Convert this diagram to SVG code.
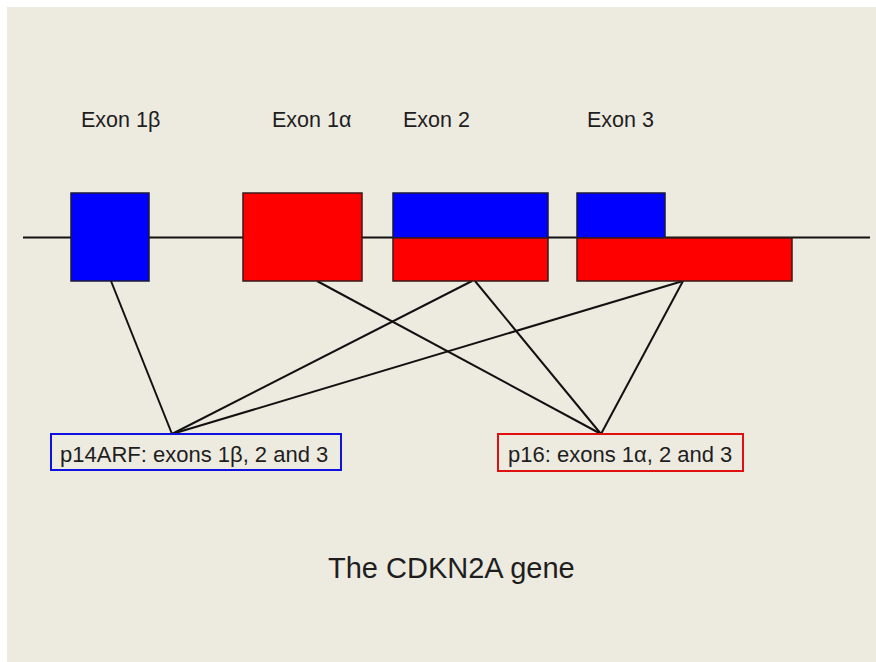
<svg xmlns="http://www.w3.org/2000/svg" width="876" height="662" viewBox="0 0 876 662">
<style>
.lbl{font-family:"Liberation Sans",Arial,sans-serif;fill:#1e1e1e}
.blue{fill:#0000ff;stroke:#1a1a3a;stroke-width:1.5}
.red{fill:#ff0000;stroke:#3a1a1a;stroke-width:1.5}
.con{stroke:#111;stroke-width:2;fill:none}
</style>
<rect x="0" y="0" width="876" height="662" fill="#ffffff"/>
<rect x="7" y="7" width="869" height="655" fill="#edeae0"/>
<g id="gene-line"><line class="con" x1="23" y1="237.5" x2="870" y2="237.5"/></g>
<g id="connectors">
<line class="con" x1="111" y1="281" x2="172" y2="434"/>
<line class="con" x1="472" y1="281" x2="172" y2="434"/>
<line class="con" x1="683" y1="281" x2="172" y2="434"/>
<line class="con" x1="317" y1="281" x2="601" y2="434"/>
<line class="con" x1="475" y1="281" x2="601" y2="434"/>
<line class="con" x1="683" y1="281" x2="601" y2="434"/>
</g>
<g id="exon1b">
<rect class="blue" x="71" y="193" width="78" height="88"/>
<text class="lbl" x="81" y="127" font-size="21.5">Exon 1β</text>
</g>
<g id="exon1a">
<rect class="red" x="243" y="193" width="119" height="88"/>
<text class="lbl" x="272" y="127" font-size="21.5">Exon 1α</text>
</g>
<g id="exon2">
<rect class="blue" x="393" y="193" width="155" height="45"/>
<rect class="red" x="393" y="238" width="155" height="43"/>
<text class="lbl" x="403" y="127" font-size="21.5">Exon 2</text>
</g>
<g id="exon3">
<rect class="blue" x="577" y="193" width="88" height="45"/>
<rect class="red" x="577" y="238" width="215" height="43"/>
<text class="lbl" x="587" y="127" font-size="21.5">Exon 3</text>
</g>
<g id="p14arf">
<rect x="51" y="434" width="290" height="36" fill="none" stroke="#1010e0" stroke-width="2"/>
<text class="lbl" x="60" y="462" font-size="22">p14ARF: exons 1β, 2 and 3</text>
</g>
<g id="p16">
<rect x="498" y="434" width="245" height="37" fill="none" stroke="#e01010" stroke-width="2"/>
<text class="lbl" x="508" y="462" font-size="22">p16: exons 1α, 2 and 3</text>
</g>
<g id="title">
<text class="lbl" x="328" y="578" font-size="29" fill="#111">The CDKN2A gene</text>
</g>
</svg>
